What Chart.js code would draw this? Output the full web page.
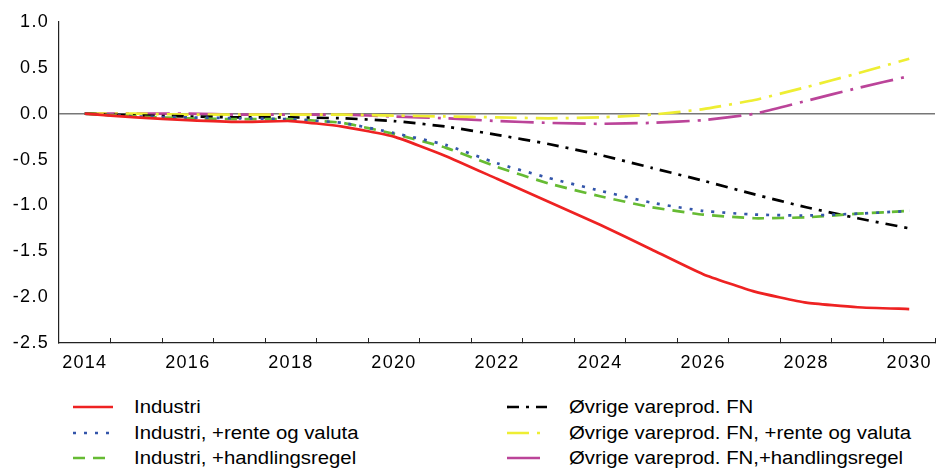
<!DOCTYPE html>
<html>
<head>
<meta charset="utf-8">
<script src="https://cdn.jsdelivr.net/npm/chart.js@4.4.1/dist/chart.umd.min.js"></script>
<style>
  html, body { margin: 0; padding: 0; background: #fff; }
  #wrap { position: relative; width: 936px; height: 470px; font-family: "Liberation Sans", Arial, sans-serif; }
  #box { position: absolute; left: 0; top: 0; width: 936px; height: 372px; }
  .swatch { position: absolute; line-height: 0; }
  .swatch svg { display: block; }
  .txt { position: absolute; font-size: 18px; line-height: 20px; color: #000; white-space: nowrap; transform: scaleX(1.13); transform-origin: 0 50%; }
</style>
</head>
<body>
<div id="wrap">
  <div id="box"><canvas id="c"></canvas></div>
  <div id="legend"></div>
</div>
<script>
const years = ['2014','2015','2016','2017','2018','2019','2020','2021','2022','2023','2024','2025','2026','2027','2028','2029','2030'];

const industri        = [0, -0.04, -0.07, -0.09, -0.08, -0.14, -0.25, -0.46, -0.71, -0.96, -1.21, -1.48, -1.75, -1.94, -2.06, -2.11, -2.13];
const industriRente   = [0, -0.03, -0.04, -0.05, -0.06, -0.10, -0.21, -0.34, -0.54, -0.70, -0.84, -0.97, -1.06, -1.10, -1.11, -1.09, -1.06];
const industriRegel   = [0, -0.03, -0.05, -0.06, -0.06, -0.10, -0.22, -0.37, -0.58, -0.76, -0.90, -1.02, -1.10, -1.14, -1.13, -1.09, -1.06];
const ovrige          = [0, -0.02, -0.03, -0.04, -0.04, -0.05, -0.08, -0.14, -0.23, -0.33, -0.45, -0.59, -0.73, -0.88, -1.02, -1.14, -1.25];
const ovrigeRente     = [0, 0, -0.01, -0.01, -0.01, -0.01, -0.02, -0.03, -0.04, -0.05, -0.04, -0.01, 0.05, 0.15, 0.29, 0.44, 0.60];
const ovrigeRegel     = [0, 0, 0, -0.01, -0.01, -0.01, -0.03, -0.05, -0.08, -0.10, -0.11, -0.10, -0.07, 0.00, 0.14, 0.28, 0.41];

const yTicks = [1.0, 0.5, 0.0, -0.5, -1.0, -1.5, -2.0, -2.5];

const series = [
  { label: 'Industri', data: industri, color: '#ee2222', dash: [] },
  { label: 'Industri, +rente og valuta', data: industriRente, color: '#3355aa', dash: [3, 8] },
  { label: 'Industri, +handlingsregel', data: industriRegel, color: '#66bb33', dash: [12, 8] },
  { label: 'Øvrige vareprod. FN', data: ovrige, color: '#000000', dash: [12, 7, 3, 7] },
  { label: 'Øvrige vareprod. FN, +rente og valuta', data: ovrigeRente, color: '#eeee33', dash: [22, 8, 3, 8] },
  { label: 'Øvrige vareprod. FN,+handlingsregel', data: ovrigeRegel, color: '#bb4499', dash: [33, 8, 3, 8] }
];

const tickFont = { family: '"Liberation Sans", Arial, sans-serif', size: 18 };

// Slightly wider tick lettering, applied only while drawing so layout is unaffected
const letterSpacingPlugin = {
  id: 'letterSpacing',
  beforeDraw(chart) { chart.ctx.letterSpacing = '1.3px'; },
  afterDraw(chart) { chart.ctx.letterSpacing = '0px'; }
};

new Chart(document.getElementById('c'), {
  type: 'line',
  data: {
    labels: years,
    datasets: series.map(s => ({
      label: s.label,
      data: s.data,
      borderColor: s.color,
      backgroundColor: s.color,
      borderDash: s.dash,
      borderWidth: 2.7,
      pointRadius: 0,
      tension: 0.15,
      fill: false
    }))
  },
  plugins: [letterSpacingPlugin],
  options: {
    responsive: true,
    maintainAspectRatio: false,
    animation: false,
    layout: { padding: { top: 22, right: 1, left: 0, bottom: 0 } },
    plugins: { legend: { display: false }, tooltip: { enabled: false } },
    scales: {
      x: {
        offset: true,
        grid: { offset: true, drawOnChartArea: false, drawTicks: true, tickLength: -5, color: '#222', lineWidth: 1 },
        border: { display: true, color: '#222', width: 1.2 },
        ticks: {
          autoSkip: false, maxRotation: 0, padding: 14, color: '#000', font: tickFont,
          callback: function (v, i) { const y = years[i]; return (+y % 2 === 0) ? y : ''; }
        },
        afterFit: s => { s.height = 29; s.paddingLeft = 0; s.paddingRight = 0; }
      },
      y: {
        min: -2.5, max: 1.0,
        afterBuildTicks: s => { s.ticks = yTicks.map(v => ({ value: v })); },
        grid: {
          drawTicks: false,
          color: ctx => (ctx.tick && ctx.tick.value === 0) ? '#777777' : 'rgba(0,0,0,0)',
          lineWidth: 1.5
        },
        border: { display: true, color: '#222', width: 1.2 },
        ticks: { padding: 10, color: '#000', font: tickFont, callback: v => v.toFixed(1) },
        afterFit: s => { s.width = 59; }
      }
    }
  }
});

// Legend below the plot, two columns of three entries
const legend = document.getElementById('legend');
const cols = [
  { lineX: 73, lineW: 40, textX: 134 },
  { lineX: 507, lineW: 40, textX: 569 }
];
const rowY = [407, 433, 458];
series.forEach((s, i) => {
  const c = cols[Math.floor(i / 3)], y = rowY[i % 3];
  const sw = document.createElement('div');
  sw.className = 'swatch';
  sw.style.left = c.lineX + 'px';
  sw.style.top = (y - 3) + 'px';
  sw.innerHTML = `<svg width="${c.lineW}" height="6"><line x1="0" y1="3" x2="${c.lineW}" y2="3" stroke="${s.color}" stroke-width="2.7" ${s.dash.length ? `stroke-dasharray="${s.dash.join(' ')}"` : ''}/></svg>`;
  legend.appendChild(sw);
  const t = document.createElement('div');
  t.className = 'txt';
  t.style.left = c.textX + 'px';
  t.style.top = (y - 10) + 'px';
  t.textContent = s.label;
  legend.appendChild(t);
});
</script>
</body>
</html>
